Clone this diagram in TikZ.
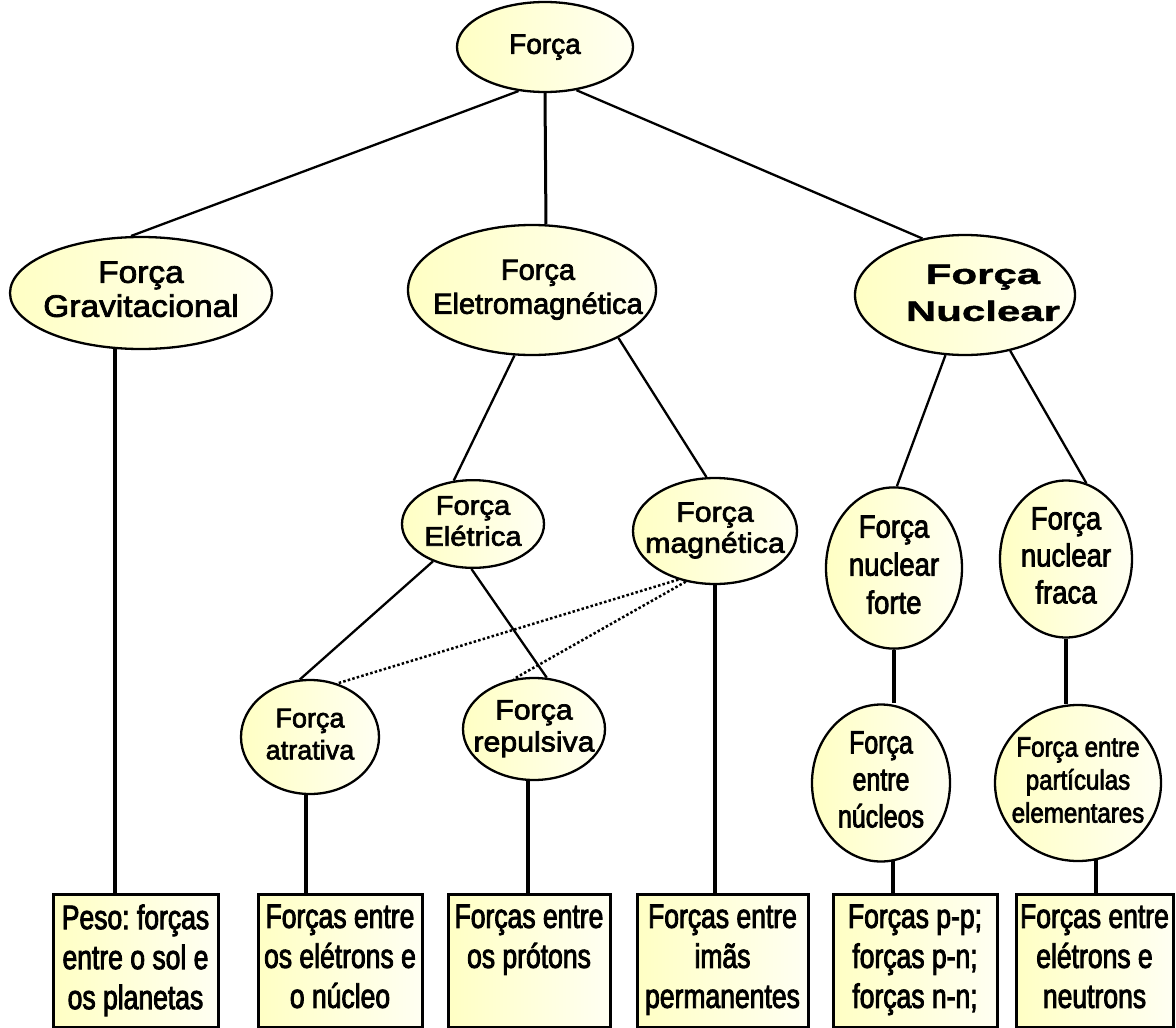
\documentclass[tikz,border=0pt]{standalone}
\usepackage{fontspec}
\setmainfont[FakeBold=2.5]{Liberation Sans}
\newfontfamily\plainfont[FakeBold=2.5]{Liberation Sans}
\newfontfamily\boxfont[FakeStretch=0.78,FakeBold=2.5]{Liberation Sans}
\newfontfamily\narrowfont[FakeStretch=0.86,FakeBold=2.5]{Liberation Sans}
\newfontfamily\widefont[FakeStretch=1.08,FakeBold=2.5]{Liberation Sans}
\newfontfamily\heavyfont[FakeStretch=1.5,FakeBold=1.5]{Liberation Sans}
\usetikzlibrary{shapes.geometric}
\frenchspacing

\definecolor{fillL}{RGB}{255,255,196}
\definecolor{fillR}{RGB}{255,255,242}

% centred lines of text that do not widen the ellipse around them
\newcommand\ovaltext[2]{\makebox[0pt]{#1\begin{tabular}{@{}c@{}}#2\end{tabular}}}
% top-aligned text inside the bottom boxes
\newcommand\leaftext[2]{\parbox[c][113pt][t]{#1}{\centering\boxfont\fontsize{34}{40}\selectfont #2}}

\begin{document}
\begin{tikzpicture}[x=1pt,y=-1pt,
  oval/.style={ellipse, draw, line width=2.3pt, inner sep=0pt, align=center,
               left color=fillL, right color=fillR},
  leaf/.style={rectangle, draw, line width=3pt, inner sep=0pt, anchor=north,
               left color=fillL, right color=fillR, minimum height=133pt},
  link/.style={line width=2.3pt},
  stem/.style={line width=4pt},
  hint/.style={line width=2.5pt, dash pattern=on 2.5pt off 2.2pt}
]
\useasboundingbox (0,0) rectangle (1176,1028);
\fill[white] (0,0) rectangle (1176,1028);

% ---- concepts ----
\node[oval, minimum width=176pt, minimum height=90pt] (forca) at (545,47)
  {\ovaltext{\plainfont\fontsize{28}{34}\selectfont}{Força}};
\node[oval, minimum width=262pt, minimum height=112pt] (grav) at (141,293)
  {\ovaltext{\widefont\fontsize{31}{34}\selectfont}{Força\\Gravitacional}};
\node[oval, minimum width=248pt, minimum height=130pt] (em) at (532,290)
  {\ovaltext{\kern12pt\plainfont\fontsize{29}{34}\selectfont}{Força\\Eletromagnética}};
\node[oval, minimum width=220pt, minimum height=120pt] (nuc) at (965,295)
  {\ovaltext{\kern36pt\heavyfont\bfseries\fontsize{28}{37}\selectfont}{Força\\Nuclear}};

\node[oval, minimum width=142pt, minimum height=82pt] (ele) at (473,524)
  {\ovaltext{\widefont\fontsize{27}{31}\selectfont}{Força\\Elétrica}};
\node[oval, minimum width=164pt, minimum height=106pt] (mag) at (715,531)
  {\ovaltext{\widefont\fontsize{28}{31}\selectfont}{Força\\magnética}};
\node[oval, minimum width=138pt, minimum height=114pt] (atr) at (310,737)
  {\ovaltext{\plainfont\fontsize{27}{32}\selectfont}{Força\\atrativa}};
\node[oval, minimum width=142pt, minimum height=102pt] (rep) at (534,729)
  {\ovaltext{\widefont\fontsize{28}{32}\selectfont}{Força\\repulsiva}};

\node[oval, minimum width=136pt, minimum height=146pt] (forte) at (894,568)
  {\ovaltext{\narrowfont\fontsize{32}{38}\selectfont}{Força\\nuclear\\forte}};
\node[oval, minimum width=132pt, minimum height=142pt] (fraca) at (1066,559)
  {\ovaltext{\narrowfont\fontsize{32}{37}\selectfont}{Força\\nuclear\\fraca}};
\node[oval, minimum width=138pt, minimum height=156pt] (nucl) at (881,783)
  {\ovaltext{\boxfont\fontsize{32}{37}\selectfont}{Força\\entre\\núcleos}};
\node[oval, minimum width=166pt, minimum height=156pt] (part) at (1078,783)
  {\ovaltext{\narrowfont\fontsize{28}{33}\selectfont}{Força entre\\partículas\\elementares}};

% ---- examples ----
\node[leaf, minimum width=165pt] (peso) at (135.5,893)
  {\leaftext{160pt}{Peso: forças\\entre o sol e\\os planetas}};
\node[leaf, minimum width=164pt] (eln) at (340,893)
  {\leaftext{160pt}{Forças entre\\os elétrons e\\o núcleo}};
\node[leaf, minimum width=162pt] (prot) at (529,893)
  {\leaftext{158pt}{Forças entre\\os prótons}};
\node[leaf, minimum width=171pt] (imas) at (722.5,893)
  {\leaftext{166pt}{Forças entre\\imãs\\permanentes}};
\node[leaf, minimum width=164pt] (pn) at (915,893)
  {\leaftext{160pt}{Forças p-p;\\forças p-n;\\forças n-n;}};
\node[leaf, minimum width=157pt] (elneu) at (1094.5,893)
  {\leaftext{153pt}{Forças entre\\elétrons e\\neutrons}};

% ---- hierarchy links ----
\draw[link] (forca.239) -- (grav.100);
\draw[line width=3pt] (forca.south) -- (em.78);
\draw[link] (forca.306) -- (nuc.127);

\draw[link] (em.255) -- (ele.114);
\draw[link] (em.331) -- (mag.99);
\draw[link] (ele.223) -- (atr.100);
\draw[link] (ele.268) -- (rep.76);
\draw[link] (nuc.252) -- (forte.88);
\draw[link] (nuc.309) -- (fraca.75);

\draw[hint] (mag.233) -- (atr.63);
\draw[hint] (mag.240) -- (rep.112);

\draw[stem] (forte.south) -- (forte.south |- nucl.north);
\draw[stem] (fraca.south) -- (fraca.south |- part.north);

% ---- links down to the examples ----
\draw[stem] (grav.245.6) -- (grav.245.6 |- peso.north);
\draw[stem] (atr.266) -- (atr.266 |- eln.north);
\draw[stem] (rep.263) -- (rep.263 |- prot.north);
\draw[stem] (mag.south) -- (mag.south |- imas.north);
\draw[stem] (nucl.279) -- (nucl.279 |- pn.north);
\draw[stem] (part.283) -- (part.283 |- elneu.north);
\end{tikzpicture}
\end{document}
